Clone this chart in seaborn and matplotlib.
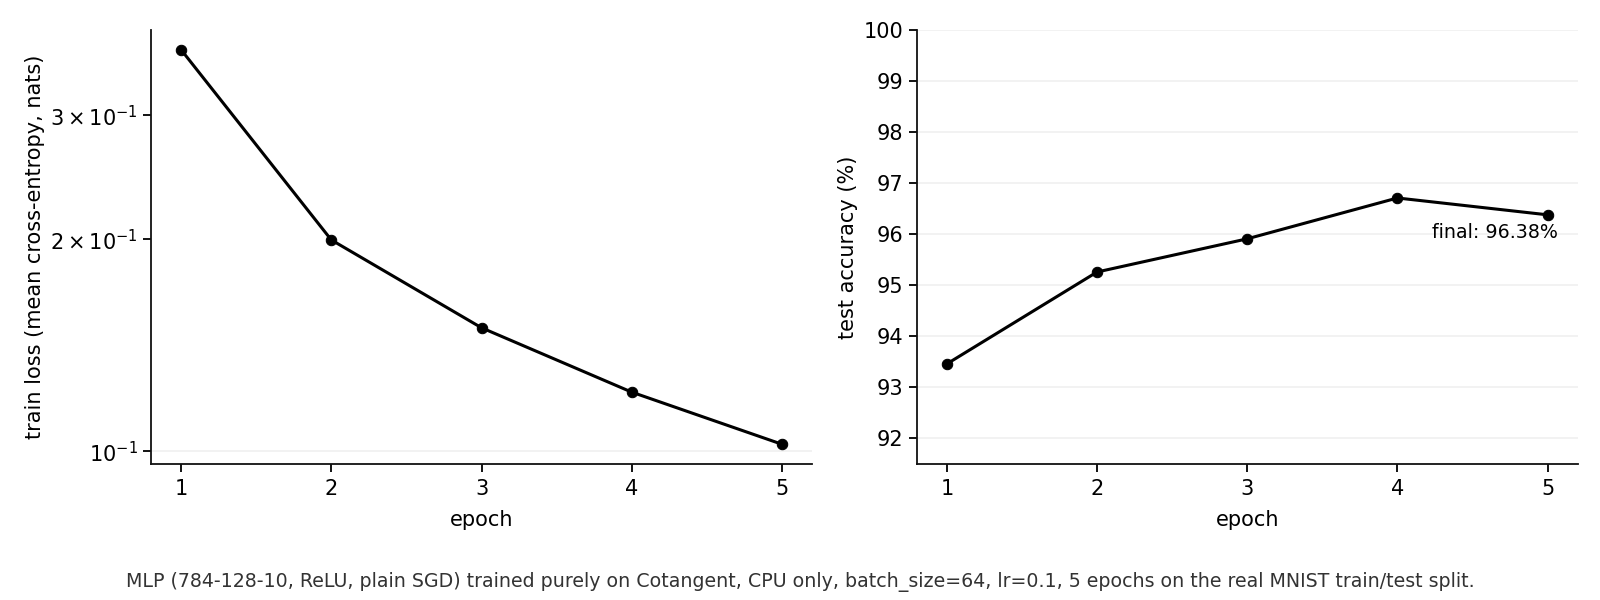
import seaborn as sns
import matplotlib.pyplot as plt
import pandas as pd

epochs = [1, 2, 3, 4, 5]
train_loss = [0.3715, 0.1995, 0.1497, 0.1213, 0.1023]
test_acc = [93.46, 95.26, 95.91, 96.71, 96.38]

caption = ("MLP (784-128-10, ReLU, plain SGD) trained purely on Cotangent, CPU only, "
           "batch_size=64, lr=0.1, 5 epochs on the real MNIST train/test split.")

sns.set_theme(style="ticks", rc={
    "font.size": 15,
    "axes.labelsize": 15,
    "xtick.labelsize": 15,
    "ytick.labelsize": 15,
    "text.color": "black",
    "axes.labelcolor": "black",
    "xtick.color": "black",
    "ytick.color": "black",
    "axes.edgecolor": "#111111",
    "axes.linewidth": 1.3,
    "xtick.major.size": 6,
    "ytick.major.size": 6,
    "ytick.minor.size": 6,
    "xtick.major.width": 1.3,
    "ytick.major.width": 1.3,
    "ytick.minor.width": 1.3,
    "xtick.major.pad": 5,
})
plt.rcParams["font.family"] = ["DejaVu Sans"]

df = pd.DataFrame({"epoch": epochs, "loss": train_loss, "acc": test_acc})

fig = plt.figure(figsize=(16, 6), dpi=100)
ax1 = fig.add_axes([0.0944, 0.2267, 0.4131, 0.7233])
ax2 = fig.add_axes([0.573, 0.2267, 0.413, 0.7233])

sns.lineplot(data=df, x="epoch", y="loss", ax=ax1, color="black",
             marker="o", markersize=7.5, linewidth=2.2, markeredgecolor="black")
ax1.set_yscale("log")
ax1.set_xticks(epochs)
ax1.set_xlabel("epoch", labelpad=7.5)
ax1.set_ylabel("train loss (mean cross-entropy, nats)")
ax1.grid(axis="y", which="major", color="#f0f0f0", linewidth=1.2)
ax1.set_axisbelow(True)

sns.lineplot(data=df, x="epoch", y="acc", ax=ax2, color="black",
             marker="o", markersize=7.5, linewidth=2.2, markeredgecolor="black")
ax2.set_ylim(91.5, 100)
ax2.set_yticks(range(92, 101))
ax2.set_xticks(epochs)
ax2.set_xlabel("epoch", labelpad=7.5)
ax2.set_ylabel("test accuracy (%)")
ax2.grid(axis="y", color="#f0f0f0", linewidth=1.2)
ax2.set_axisbelow(True)
ax2.annotate(f"final: {test_acc[-1]:.2f}%", xy=(epochs[-1], test_acc[-1]),
             xytext=(10, -8), textcoords="offset pixels",
             ha="right", va="top", fontsize=13.7)

for ax in (ax1, ax2):
    sns.despine(ax=ax)
    ax.set_xlim(0.8, 5.2)

fig.text(0.5, 0.03, caption, ha="center", va="center", fontsize=13.7, color="#333333")

fig.savefig("out.png", dpi=100)
